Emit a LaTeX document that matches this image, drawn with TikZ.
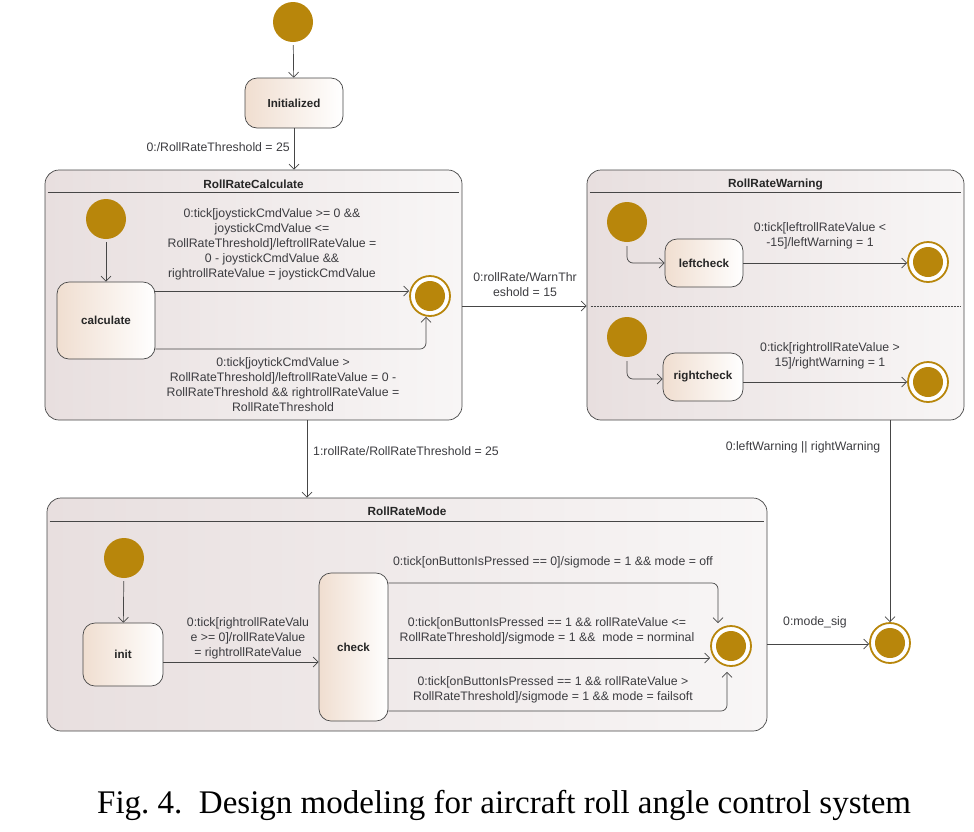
\documentclass[tikz,border=0pt]{standalone}
\usepackage{fontspec}
\setmainfont{Liberation Sans}
\newfontfamily\capfont{Liberation Serif}
\usepackage{tikz}
\usetikzlibrary{arrows.meta}
\usetikzlibrary{positioning}
\definecolor{gold}{RGB}{184,134,11}
\definecolor{linegray}{RGB}{70,70,70}
\definecolor{labelgray}{RGB}{60,60,64}
\definecolor{compL}{RGB}{232,223,223}
\definecolor{compR}{RGB}{248,246,246}
\definecolor{stateL}{RGB}{240,222,208}

\begin{document}
\begin{tikzpicture}[
x=1pt, y=-1pt,
>={Straight Barb[length=5pt,width=10pt]},
initst/.style={circle, fill=gold, minimum size=40pt, inner sep=0},
finalst/.style={circle, draw=gold, line width=1.8pt, fill=white, minimum size=40pt, inner sep=0,
  path picture={\fill[gold] (path picture bounding box.center) circle (15pt);}},
state/.style={draw=linegray, line width=0.7pt, rounded corners=12pt, left color=stateL, right color=white,
  font=\fontsize{11.6}{15}\selectfont\bfseries, text=black!85},
comp/.style={draw=linegray, line width=0.7pt, rounded corners=14pt, left color=compL, right color=compR},
title/.style={font=\fontsize{11.8}{15}\selectfont\bfseries, text=black!85},
lbl/.style={font=\fontsize{12.3}{15}\selectfont, align=center, text=labelgray, inner sep=0},
sepline/.style={draw=linegray, line width=0.7pt},
trans/.style={->, draw=linegray, line width=0.7pt, rounded corners=6pt}
]
\useasboundingbox (0,0) rectangle (974,831);

\node[initst] (top0) at (293,22) {};
\node[state, minimum width=98pt, minimum height=50pt] (initd) at (294,103) {Initialized};

\node[comp, minimum width=417pt, minimum height=250pt] (rrc) at (253.5,295) {};
\node[title] (trrc) at (253.5,184) {RollRateCalculate};
\draw[sepline] ([xshift=3pt,yshift=-23pt]rrc.north west) -- ([xshift=-3pt,yshift=-23pt]rrc.north east);
\node[initst] (c0) at (106,219) {};
\node[state, minimum width=98pt, minimum height=77pt] (calc) at (106,320.5) {calculate};
\node[finalst] (cfin) at (430,296) {};

\node[comp, minimum width=377pt, minimum height=250pt] (rrw) at (775.5,295) {};
\node[title] (trrw) at (775.5,184) {RollRateWarning};
\draw[sepline] ([xshift=3pt,yshift=-23pt]rrw.north west) -- ([xshift=-3pt,yshift=-23pt]rrw.north east);
\draw[sepline, dash pattern=on 2pt off 1pt] ([xshift=4pt,yshift=-11pt]rrw.west) -- ([xshift=-4pt,yshift=-11pt]rrw.east);
\node[initst] (w0) at (627,222) {};
\node[state, minimum width=78pt, minimum height=48pt] (lchk) at (704,263) {leftcheck};
\node[finalst] (lfin) at (928,262) {};
\node[initst] (w1) at (627,337) {};
\node[state, minimum width=80pt, minimum height=48pt] (rchk) at (703,377) {rightcheck};
\node[finalst] (rfin) at (928,382) {};

\node[comp, minimum width=720pt, minimum height=233pt] (rrm) at (407,614.5) {};
\node[title] (trrm) at (407,511) {RollRateMode};
\draw[sepline] ([xshift=3pt,yshift=-24pt]rrm.north west) -- ([xshift=-3pt,yshift=-24pt]rrm.north east);
\node[initst] (m0) at (124,558) {};
\node[state, minimum width=80pt, minimum height=63pt] (initm) at (123,654.5) {init};
\node[state, minimum width=69pt, minimum height=148pt] (check) at (353.5,647) {check};
\node[finalst] (mfin) at (731,646) {};

\node[finalst] (ofin) at (890,643) {};

\draw[trans, shorten <=3pt] (top0) -- (initd);
\draw[trans] (initd.south) -- (initd.south |- rrc.north);
\node[lbl, anchor=east] (l0) at (290,147) {0:/RollRateThreshold = 25};

\draw[trans, shorten <=3pt] (c0) -- (calc);
\draw[trans] ([yshift=29.5pt]calc.east) -- ([yshift=29.5pt]calc.east -| cfin.west);
\draw[trans] ([yshift=-28.5pt]calc.east) -| ([xshift=-4pt]cfin.south);
\node[lbl] (l1) at (272,244.5) {0:tick[joystickCmdValue >= 0 \&\&\\joystickCmdValue <=\\RollRateThreshold]/leftrollRateValue =\\0 - joystickCmdValue \&\&\\rightrollRateValue = joystickCmdValue};
\node[lbl] (l2) at (283,384.5) {0:tick[joytickCmdValue >\\RollRateThreshold]/leftrollRateValue = 0 -\\RollRateThreshold \&\& rightrollRateValue =\\RollRateThreshold};

\draw[trans] ([yshift=-11pt]rrc.east) -- ([yshift=-11pt]rrc.east -| rrw.west);
\node[lbl] (l3) at (525,284.5) {0:rollRate/WarnThr\\eshold = 15};

\draw[trans, shorten <=4pt] (w0.south) |- (lchk.west);
\draw[trans] (lchk.east) -- (lchk.east -| lfin.west);
\node[lbl] (l4) at (820,236) {0:tick[leftrollRateValue <\\-15]/leftWarning = 1};
\draw[trans, shorten <=4pt] (w1.south) |- ([yshift=-2pt]rchk.west);
\draw[trans] ([yshift=-5pt]rchk.east) -- ([yshift=-5pt]rchk.east -| rfin.west);
\node[lbl] (l5) at (830,355.5) {0:tick[rightrollRateValue >\\15]/rightWarning = 1};

\draw[trans] ([xshift=53.5pt]rrc.south) -- ([xshift=53.5pt]rrc.south |- rrm.north);
\node[lbl, anchor=west] (l6) at (313,451) {1:rollRate/RollRateThreshold = 25};

\draw[trans] (ofin.north |- rrw.south) -- (ofin.north);
\node[lbl] (l7) at (803,447) {0:leftWarning || rightWarning};

\draw[trans, shorten <=3pt] (m0) -- (initm);
\draw[trans] ([yshift=-7.5pt]initm.east) -- ([yshift=-7.5pt]initm.east -| check.west);
\node[lbl] (l8) at (248,638) {0:tick[rightrollRateValu\\e >= 0]/rollRateValue\\ = rightrollRateValue};
\draw[trans] ([yshift=64pt]check.east) -| ([xshift=-13pt,yshift=2pt]mfin.north);
\draw[trans] ([yshift=-11pt]check.east) -- ([yshift=-11pt]check.east -| mfin.west);
\draw[trans] ([yshift=-64pt]check.east) -| ([xshift=-4pt,yshift=-5pt]mfin.south);
\node[lbl] (l9) at (553,562) {0:tick[onButtonIsPressed == 0]/sigmode = 1 \&\& mode = off};
\node[lbl] (l10) at (547,630.5) {0:tick[onButtonIsPressed == 1 \&\& rollRateValue <=\\RollRateThreshold]/sigmode = 1 \&\&~ mode = norminal};
\node[lbl] (l11) at (553,689.5) {0:tick[onButtonIsPressed == 1 \&\& rollRateValue >\\RollRateThreshold]/sigmode = 1 \&\& mode = failsoft};

\draw[trans] ([yshift=-29.5pt]rrm.east) -- ([yshift=-29.5pt]rrm.east -| ofin.west);
\node[lbl] (l12) at (815,622) {0:mode\_sig};

\node[anchor=base west, inner sep=0, font=\capfont\fontsize{33}{40}\selectfont] (cap) at (97,813) {Fig.~4.\enskip Design modeling for aircraft roll angle control system};
\end{tikzpicture}
\end{document}
